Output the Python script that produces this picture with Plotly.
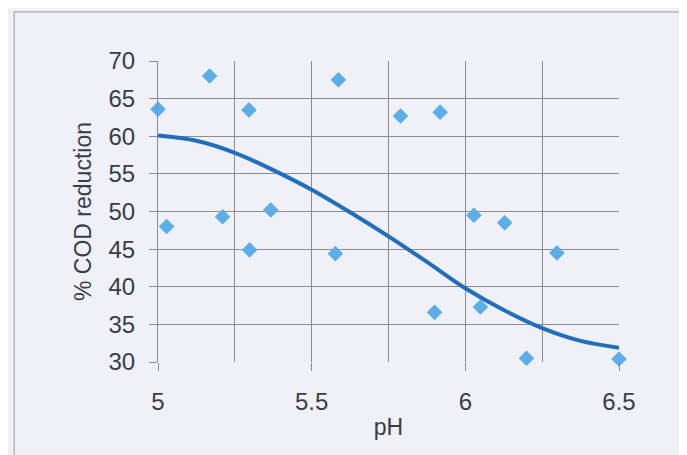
import plotly.graph_objects as go

# Measured data points (pH, % COD reduction)
ph = [5.00, 5.028, 5.168, 5.21, 5.296, 5.298, 5.367, 5.577, 5.587, 5.789,
      5.918, 5.90, 6.028, 6.049, 6.128, 6.199, 6.298, 6.50]
cod = [63.6, 48.0, 68.0, 49.3, 63.5, 44.9, 50.2, 44.4, 67.5, 62.7,
       63.2, 36.6, 49.5, 37.3, 48.5, 30.5, 44.5, 30.4]

# Trend curve
trend_ph = [5.0, 5.125, 5.25, 5.375, 5.5, 5.625, 5.75, 5.875, 6.0, 6.125, 6.25, 6.375, 6.5]
trend_cod = [60.1, 59.4, 57.8, 55.5, 52.9, 49.9, 46.7, 43.3, 39.8, 36.9, 34.5, 32.8, 31.9]

x_ticks = [5, 5.5, 6, 6.5]
x_tick_text = ["5", "5.5", "6", "6.5"]
y_ticks = [30, 35, 40, 45, 50, 55, 60, 65, 70]

BG = "#eff1f6"
GRID = "#8c8c8c"
TXT = "#383d4a"
FONT = "Liberation Sans, Arial, sans-serif"

fig = go.Figure()
fig.add_trace(go.Scatter(x=trend_ph, y=trend_cod, mode="lines",
                         line=dict(color="#1d6fc4", width=4, shape="spline"),
                         hoverinfo="skip", cliponaxis=False))
fig.add_trace(go.Scatter(x=ph, y=cod, mode="markers", cliponaxis=False,
                         marker=dict(symbol="diamond", size=12, color="#5aaeea",
                                     line=dict(width=0))))

fig.update_layout(
    width=687, height=455,
    margin=dict(l=150, r=76, t=53, b=101),
    paper_bgcolor=BG, plot_bgcolor=BG,
    showlegend=False,
    font=dict(family=FONT, size=24, color=TXT),
    shapes=[dict(type="line", xref="paper", yref="paper", x0=-0.312, x1=1.3,
                 y0=1.163, y1=1.163, line=dict(color="#9a9a9a", width=1)),
            dict(type="line", xref="paper", yref="paper", x0=-0.312, x1=-0.312,
                 y0=1.163, y1=-0.5, line=dict(color="#9a9a9a", width=1))],
)
fig.update_xaxes(
    range=[5, 6.5], tickvals=x_ticks, ticktext=x_tick_text, automargin=False,
    showgrid=True, gridcolor=GRID, gridwidth=1,
    minor=dict(dtick=0.25, tick0=5, showgrid=True, gridcolor=GRID, gridwidth=1),
    ticks="outside", ticklen=8, tickcolor=GRID, ticklabelstandoff=10,
    zeroline=False, showline=False,
    title=dict(text="pH", standoff=5, font=dict(size=23, color=TXT)),
)
fig.update_yaxes(
    range=[30, 70], tickvals=y_ticks, automargin=False,
    showgrid=True, gridcolor=GRID, gridwidth=1,
    ticks="outside", ticklen=8, tickcolor=GRID, ticklabelstandoff=9,
    zeroline=False, showline=True, linecolor=GRID, linewidth=1,
    title=dict(text="% COD reduction", standoff=10, font=dict(size=23, color=TXT)),
)
fig.write_html("out.html")
